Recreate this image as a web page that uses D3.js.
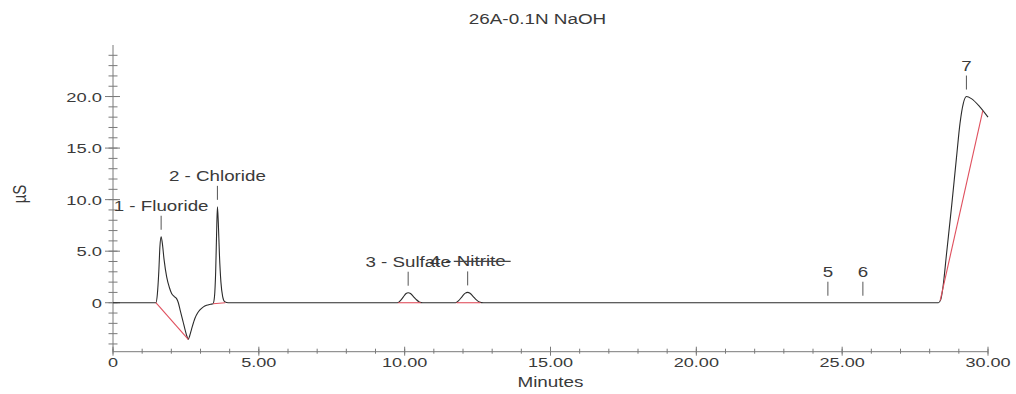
<!DOCTYPE html>
<html>
<head>
<meta charset="utf-8">
<script src="https://cdn.jsdelivr.net/npm/d3@7"></script>
<style>
  html, body { margin: 0; padding: 0; background: #ffffff; }
  svg { display: block; }
  text { font-family: "Liberation Sans", Arial, Helvetica, sans-serif; fill: #3a3a3a; }
</style>
</head>
<body>
<svg id="chart" width="1016" height="394"></svg>
<script>
// Chromatogram trace: retention time (minutes) and conductivity (µS)
const traceTime = [
  0, 1.47, 1.52, 1.57, 1.61, 1.65, 1.69, 1.75, 1.84, 1.93, 2.01, 2.1, 2.18, 2.24,
  2.3, 2.4, 2.47, 2.54, 2.58, 2.63, 2.69, 2.81, 2.9, 2.98, 3.1, 3.21, 3.35, 3.43,
  3.48, 3.52, 3.55, 3.58, 3.61, 3.65, 3.7, 3.76, 3.83, 3.95,
  9.75, 9.85, 9.95, 10.05, 10.12, 10.2, 10.3, 10.4, 10.5, 10.62,
  11.75, 11.85, 11.97, 12.08, 12.16, 12.24, 12.35, 12.45, 12.56, 12.7,
  28.3, 28.38, 28.46, 28.58, 28.75, 28.92, 29.04, 29.15, 29.26, 29.43, 29.72, 30.0
];
const traceSignal = [
  0, 0, 0.8, 3.0, 5.5, 6.4, 5.8, 4.2, 2.5, 1.5, 0.9, 0.6, 0.4, 0,
  -0.7, -1.8, -2.6, -3.3, -3.55, -3.2, -2.6, -1.5, -1.0, -0.7, -0.4, -0.25, -0.15, -0.1,
  0.6, 3.0, 6.5, 9.3, 7.8, 4.6, 2.0, 0.6, 0.1, 0,
  0, 0.2, 0.55, 0.9, 0.97, 0.9, 0.6, 0.3, 0.08, 0,
  0, 0.2, 0.6, 0.93, 1.0, 0.92, 0.6, 0.3, 0.08, 0,
  0, 0.3, 1.6, 4.8, 9.3, 14.1, 17.4, 19.3, 20.0, 19.8, 19.0, 18.0
];

// Identified peaks
const peakNames = ["1 - Fluoride", "2 - Chloride", "3 - Sulfate", "4 - Nitrite", "5", "6", "7"];
const peakTimes = [1.65, 3.58, 10.12, 12.16, 24.51, 25.71, 29.26];
const peakHeights = [6.4, 9.3, 0.97, 1.0, 0, 0, 20.0];

// Integration baselines (start/end of each drop line)
const baseStartTime = [1.47, 3.43, 9.78, 11.78, 28.36];
const baseStartValue = [0, -0.1, 0, 0, 0.2];
const baseEndTime = [2.58, 3.85, 10.55, 12.6, 29.82];
const baseEndValue = [-3.55, 0, 0, 0, 18.6];

// Axis ticks and labels
const xMajorTicks = [0, 5, 10, 15, 20, 25, 30];
const xTickLabels = ["0", "5.00", "10.00", "15.00", "20.00", "25.00", "30.00"];
const xMinorTicks = d3.range(0, 31, 1);
const yMajorTicks = [0, 5, 10, 15, 20];
const yTickLabels = ["0", "5.0", "10.0", "15.0", "20.0"];
const yMinorTicks = d3.range(-4, 25, 1);

const titleText = "26A-0.1N NaOH";
const xTitle = "Minutes";
const yTitle = "µS";

const svg = d3.select("#chart");

const x = d3.scaleLinear().domain([0, 30]).range([113, 988]);
const y = d3.scaleLinear().domain([-4.75, 25]).range([351.7, 45]);

const axisColor = "#7a7a7a";

// Places a horizontally widened text element
function wideText(g, str, tx, ty, size, sx, anchor) {
  return g.append("text")
    .attr("transform", `translate(${tx},${ty}) scale(${sx},1)`)
    .attr("text-anchor", anchor || "middle")
    .style("font-size", size + "px")
    .text(str);
}

// ---- Y axis ----
const yAxisG = svg.append("g").attr("transform", `translate(${x(0)},0)`);
yAxisG.append("line")
  .attr("x1", 0).attr("x2", 0)
  .attr("y1", y(25)).attr("y2", y(-4.75))
  .attr("stroke", axisColor).attr("stroke-width", 1);
yAxisG.selectAll("line.minor").data(yMinorTicks).join("line")
  .attr("class", "minor")
  .attr("x1", -4.5).attr("x2", 4.5)
  .attr("y1", d => y(d)).attr("y2", d => y(d))
  .attr("stroke", axisColor).attr("stroke-width", 1);
yAxisG.selectAll("line.major").data(yMajorTicks).join("line")
  .attr("class", "major")
  .attr("x1", -8).attr("x2", 7)
  .attr("y1", d => y(d)).attr("y2", d => y(d))
  .attr("stroke", axisColor).attr("stroke-width", 1);
yMajorTicks.forEach((d, i) => {
  wideText(svg, yTickLabels[i], x(0) - 11, y(d) + 5, 13.5, 1.36, "end");
});

// ---- X axis ----
const xAxisG = svg.append("g").attr("transform", `translate(0,${y(-4.75)})`);
xAxisG.append("line")
  .attr("x1", x(0)).attr("x2", x(30))
  .attr("y1", 0).attr("y2", 0)
  .attr("stroke", axisColor).attr("stroke-width", 1);
xAxisG.selectAll("line.minor").data(xMinorTicks).join("line")
  .attr("class", "minor")
  .attr("x1", d => x(d)).attr("x2", d => x(d))
  .attr("y1", -3).attr("y2", 2)
  .attr("stroke", axisColor).attr("stroke-width", 1);
xAxisG.selectAll("line.major").data(xMajorTicks).join("line")
  .attr("class", "major")
  .attr("x1", d => x(d)).attr("x2", d => x(d))
  .attr("y1", -5).attr("y2", 4)
  .attr("stroke", axisColor).attr("stroke-width", 1);
xMajorTicks.forEach((d, i) => {
  wideText(svg, xTickLabels[i], x(d), y(-4.75) + 15.5, 13.5, 1.34, "middle");
});

// ---- Titles ----
wideText(svg, titleText, 537.5, 24, 15, 1.26, "middle");
wideText(svg, xTitle, (x(0) + x(30)) / 2, 387, 15, 1.26, "middle");
svg.append("text")
  .attr("transform", "translate(26,194) rotate(-90) scale(1,1.25)")
  .attr("text-anchor", "middle")
  .style("font-size", "15px")
  .text(yTitle);

// ---- Trace ----
const trace = traceTime.map((t, i) => [t, traceSignal[i]]);
const line = d3.line()
  .x(d => x(d[0]))
  .y(d => y(d[1]))
  .curve(d3.curveMonotoneX);
svg.append("path")
  .datum(trace)
  .attr("d", line)
  .attr("fill", "none")
  .attr("stroke", "#2b2b2b")
  .attr("stroke-width", 1.1);

// ---- Integration baselines ----
svg.selectAll("line.base").data(baseStartTime).join("line")
  .attr("class", "base")
  .attr("x1", (d, i) => x(d))
  .attr("y1", (d, i) => y(baseStartValue[i]))
  .attr("x2", (d, i) => x(baseEndTime[i]))
  .attr("y2", (d, i) => y(baseEndValue[i]))
  .attr("stroke", "#e0505e")
  .attr("stroke-width", 1.1);

// ---- Peak markers and names ----
peakNames.forEach((name, i) => {
  const px = x(peakTimes[i]);
  const bottom = y(peakHeights[i]) - 7;
  const top = bottom - 14;
  svg.append("line")
    .attr("x1", px).attr("x2", px)
    .attr("y1", top).attr("y2", bottom)
    .attr("stroke", "#555").attr("stroke-width", 1);
  const label = wideText(svg, name, px, top - 5, 15, 1.25, "middle");
  if (name === "4 - Nitrite") {
    // strike line drawn across the peak name
    const node = label.node();
    const total = node.getComputedTextLength();
    const start = node.getSubStringLength(0, 4);
    const sx = 1.25;
    const left = px + (start - total / 2) * sx - 3;
    const right = px + (total / 2) * sx + 5;
    svg.append("line")
      .attr("x1", left).attr("x2", right)
      .attr("y1", top - 10).attr("y2", top - 10)
      .attr("stroke", "#444").attr("stroke-width", 1.3);
  }
});
</script>
</body>
</html>
